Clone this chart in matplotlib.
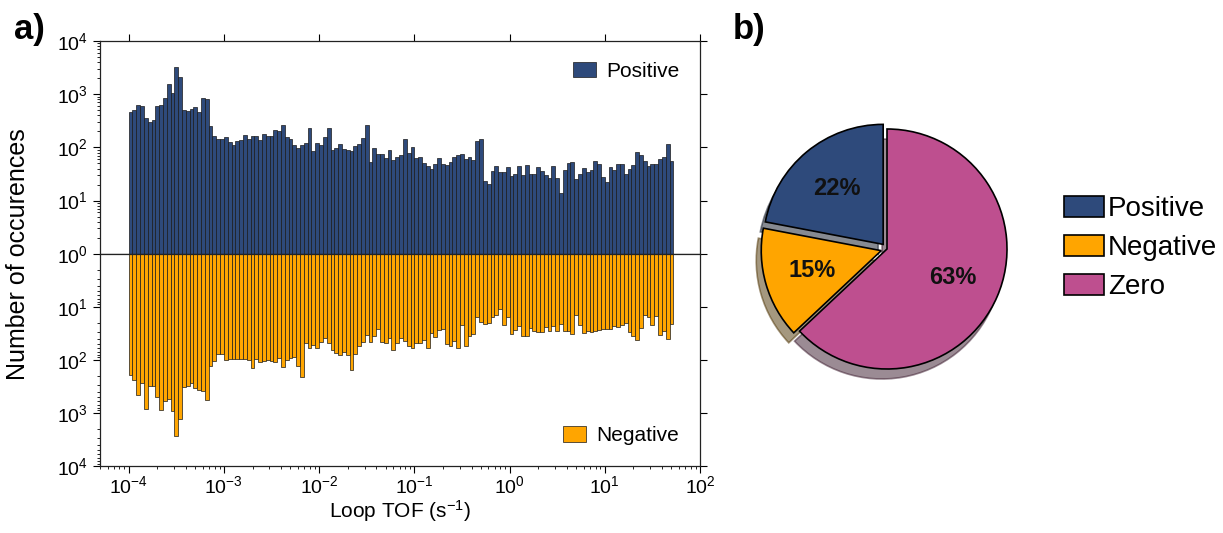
import numpy as np
import matplotlib
matplotlib.use('Agg')
import matplotlib.pyplot as plt
from matplotlib.ticker import LogLocator, NullFormatter

plt.rcParams['font.family'] = ['Liberation Sans', 'DejaVu Sans']
plt.rcParams['mathtext.fontset'] = 'custom'
plt.rcParams['mathtext.rm'] = 'Liberation Sans'
plt.rcParams['mathtext.it'] = 'Liberation Sans:italic'
plt.rcParams['mathtext.bf'] = 'Liberation Sans:bold'

# histogram counts per log bin (bins start at 1e-4 s^-1, 0.04 decade wide)
positive = [467, 500, 630, 600, 355, 303, 325, 600, 620, 830,
            1580, 1030, 3300, 2140, 500, 480, 535, 570, 460, 860,
            815, 255, 166, 143, 143, 158, 125, 110, 133, 137,
            170, 145, 163, 163, 139, 175, 163, 163, 210, 203,
            263, 158, 145, 112, 97, 110, 122, 230, 84, 122,
            112, 154, 228, 90, 98, 118, 93, 90, 85, 107,
            115, 151, 263, 53, 97, 75, 75, 63, 89, 59,
            65, 71, 141, 77, 100, 63, 66, 50, 45, 40,
            48, 62, 48, 46, 52, 65, 71, 74, 61, 65,
            58, 131, 141, 23.5, 20.4, 36, 44, 34, 35, 42,
            29, 32, 44, 30, 47, 32, 32, 43, 36, 30,
            27, 45, 27, 14, 37, 50, 52, 25, 31, 41,
            34, 37, 55, 48, 28, 22, 42, 37, 48, 48,
            31, 39, 46, 83, 71, 56, 45, 48, 48, 60,
            66, 114, 56]
negative = [190, 237, 455, 275, 830, 316, 316, 500, 870, 600,
            540, 910, 2680, 1300, 330, 316, 275, 340, 375, 390,
            565, 130, 107, 77, 79, 102, 95, 97, 97, 97,
            97, 100, 143, 97, 112, 107, 100, 107, 112, 93,
            137, 100, 93, 89, 129, 214, 48, 60, 52, 60,
            47, 38, 48, 65, 75, 80, 70, 80, 158, 77,
            54, 46, 34, 46, 35, 26, 47, 48, 38, 65,
            48, 39, 45, 55, 60, 48, 48, 42, 60, 31.5,
            37, 27, 26.5, 50, 54, 45, 60, 22.5, 55, 36,
            32, 15.3, 19, 21, 20.4, 15.8, 14.2, 11.2, 22, 15.8,
            33, 27, 23.5, 36, 36, 25, 29, 30, 30, 24,
            28, 23.5, 28, 21, 29, 29, 32, 14.2, 22, 31,
            28.5, 30.5, 28.5, 27, 26.5, 26, 26, 23, 24, 22.5,
            19.8, 30.5, 36, 42, 24.6, 14.5, 15.8, 22, 14.8, 34,
            28, 41, 21]

pie_labels = ['Positive', 'Negative', 'Zero']
pie_shares = [22, 15, 63]

POS_COLOR = '#2E4A7B'
NEG_COLOR = '#FFA500'
ZERO_COLOR = '#BE4F8F'

bin_step = 0.04
edges = 10 ** (-4 + bin_step * np.arange(len(positive) + 1))
left = edges[:-1]
widths = np.diff(edges)

W, H = 1223, 533
fig = plt.figure(figsize=(W / 100, H / 100), dpi=100)

ax_top = fig.add_axes([100 / W, 1 - 253.7 / H, 600 / W, (253.7 - 41) / H])
ax_bot = fig.add_axes([100 / W, 1 - 466 / H, 600 / W, (466 - 253.7) / H], sharex=ax_top)

for ax, vals, col, lab in [(ax_top, positive, POS_COLOR, 'Positive'),
                           (ax_bot, negative, NEG_COLOR, 'Negative')]:
    ax.set_xscale('log')
    ax.set_yscale('log')
    ax.bar(left, vals, width=widths, align='edge', color=col,
           edgecolor='#1a1a1a', linewidth=0.5, label=lab)
    ax.yaxis.set_minor_locator(LogLocator(base=10, subs=np.arange(2, 10), numticks=20))
    ax.yaxis.set_minor_formatter(NullFormatter())
    ax.tick_params(axis='both', which='major', direction='out', length=5,
                   width=0.8, labelsize=14, right=True)
    ax.tick_params(axis='both', which='minor', direction='out', length=2.5, width=0.6)
    for s in ax.spines.values():
        s.set_linewidth(0.9)
        s.set_color('#222222')

ax_top.set_xlim(5e-5, 1e2)
ax_top.set_ylim(1, 1e4)
ax_bot.set_ylim(1e4, 1)
ax_bot.set_yticks([10, 100, 1000, 10000])

ax_top.tick_params(axis='x', which='major', bottom=False, top=True, labelbottom=False)
ax_top.tick_params(axis='x', which='minor', bottom=False, top=False)
ax_bot.tick_params(axis='x', which='major', top=False, pad=1.5)
ax_bot.xaxis.set_minor_locator(LogLocator(base=10, subs=np.arange(2, 10), numticks=20))
ax_bot.xaxis.set_minor_formatter(NullFormatter())

ax_bot.set_xlabel('Loop TOF (s$^{-1}$)', fontsize=15, labelpad=1)
fig.text(18 / W, 1 - 254 / H, 'Number of occurences', rotation=90,
         va='center', ha='center', fontsize=18)

ax_top.legend(loc='upper right', frameon=False, fontsize=15, handlelength=1.1,
              handleheight=0.75, handletextpad=0.5, borderaxespad=0.6)
ax_bot.legend(loc='lower right', frameon=False, fontsize=15, handlelength=1.1,
              handleheight=0.75, handletextpad=0.5, borderaxespad=0.6)

# pie panel
R = 120
ax_pie = fig.add_axes([(887 - 1.15 * R) / W, (H - 249 - 1.15 * R) / H,
                       2.3 * R / W, 2.3 * R / H])
wedges, texts, autotexts = ax_pie.pie(
    pie_shares, colors=[POS_COLOR, NEG_COLOR, ZERO_COLOR],
    explode=[0.05, 0.05, 0.0], startangle=90, counterclock=True,
    autopct='%1.0f%%', pctdistance=0.6,
    shadow={'ox': -0.03, 'oy': -0.06, 'shade': 0.7},
    wedgeprops=dict(edgecolor='black', linewidth=1.2))
for t in autotexts:
    t.set_fontsize(17)
    t.set_fontweight('bold')
    t.set_color('#111111')
ax_pie.set_xlim(-1.15, 1.15)
ax_pie.set_ylim(-1.15, 1.15)
ax_pie.set_aspect('equal')

fig.legend(wedges, pie_labels, loc='center left',
           bbox_to_anchor=(1058 / W, 1 - 248 / H), frameon=False, fontsize=20,
           handlelength=1.45, handleheight=0.8, labelspacing=0.45,
           handletextpad=0.15, borderpad=0.2, borderaxespad=0)

fig.text(14 / W, 1 - 29 / H, 'a)', fontsize=25, fontweight='bold', va='center')
fig.text(733 / W, 1 - 29 / H, 'b)', fontsize=25, fontweight='bold', va='center')

fig.savefig('out.png', dpi=100)
